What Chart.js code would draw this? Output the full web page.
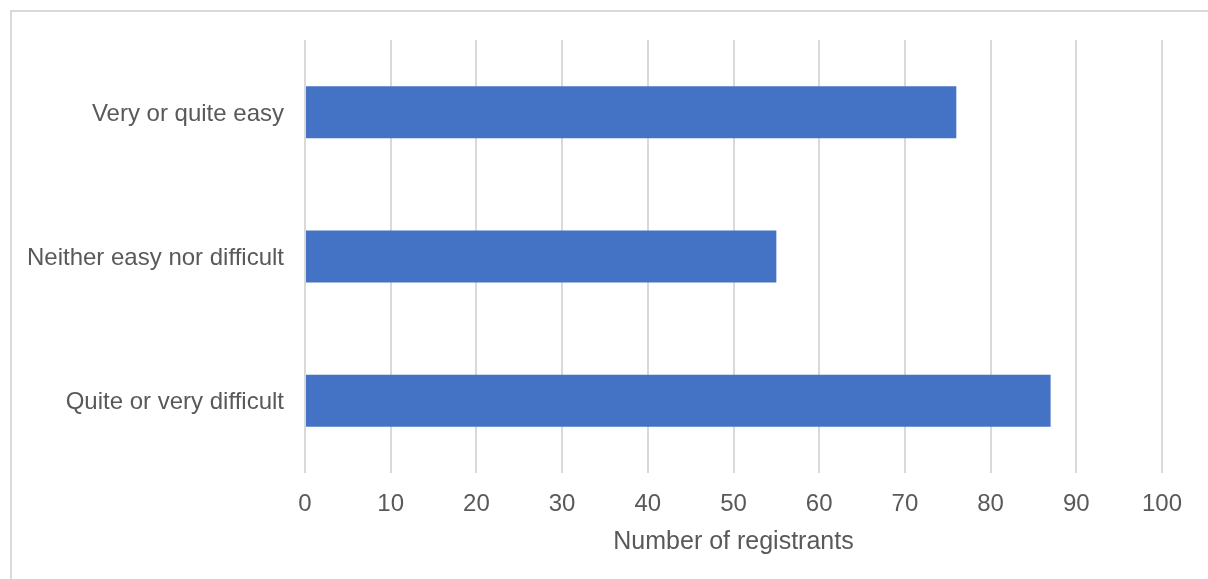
<!DOCTYPE html>
<html>
<head>
<meta charset="utf-8">
<script src="https://cdn.jsdelivr.net/npm/chart.js@4"></script>
<style>
  html, body { margin: 0; padding: 0; background: #fff; }
  #wrap { position: relative; width: 1208px; height: 579px; overflow: hidden; }
  #frame { position: absolute; left: 10px; top: 10px; width: 1300px; height: 700px;
           border-left: 2px solid #d9d9d9; border-top: 2px solid #d9d9d9; }
  #chart { position: absolute; left: 0; top: 0; }
</style>
</head>
<body>
<div id="wrap">
  <div id="frame"></div>
  <canvas id="chart" width="1208" height="579"></canvas>
</div>
<script>
var categories = ['Very or quite easy', 'Neither easy nor difficult', 'Quite or very difficult'];
var registrants = [76, 55, 87];
var xMin = 0;
var xMax = 100;
var xStep = 10;
var xTitle = 'Number of registrants';

var textColor = '#595959';
var gridColor = '#d9d9d9';

var ctx = document.getElementById('chart').getContext('2d');

var Graph = new Chart(ctx, {
  type: 'bar',
  data: {
    labels: categories,
    datasets: [{
      data: registrants,
      backgroundColor: '#4472c4',
      borderWidth: 0,
      barPercentage: 0.36,
      categoryPercentage: 1
    }]
  },
  options: {
    indexAxis: 'y',
    responsive: false,
    animation: false,
    devicePixelRatio: 1,
    layout: { padding: { top: 40, right: 46, bottom: 0, left: 0 } },
    plugins: {
      legend: { display: false },
      tooltip: { enabled: false }
    },
    scales: {
      x: {
        min: xMin,
        max: xMax,
        ticks: {
          stepSize: xStep,
          color: textColor,
          padding: 17,
          font: { family: 'Liberation Sans, Arial, sans-serif', size: 24 }
        },
        grid: { color: gridColor, lineWidth: 2, drawTicks: false },
        border: { display: false },
        title: {
          display: true,
          text: xTitle,
          color: textColor,
          padding: { top: 0, bottom: 22 },
          font: { family: 'Liberation Sans, Arial, sans-serif', size: 25 }
        },
        afterFit: function (scale) { scale.height = 106; }
      },
      y: {
        ticks: {
          color: textColor,
          padding: 21,
          labelOffset: 2,
          font: { family: 'Liberation Sans, Arial, sans-serif', size: 24 }
        },
        grid: { display: false, drawTicks: false },
        border: { display: false },
        afterFit: function (scale) { scale.width = 305; }
      }
    }
  }
});
</script>
</body>
</html>
